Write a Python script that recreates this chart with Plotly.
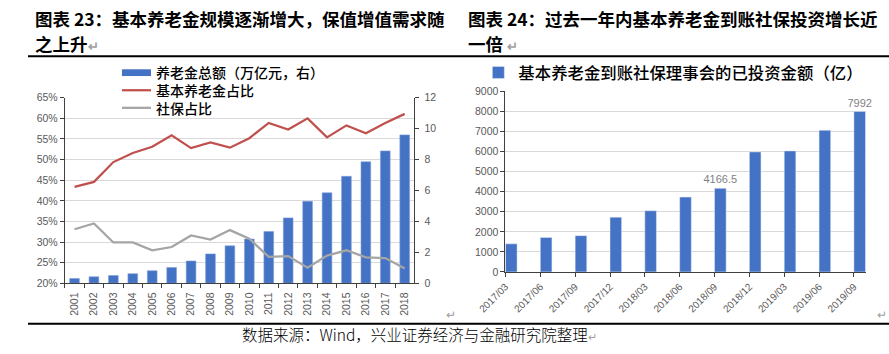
import plotly.graph_objects as go

W, H = 889, 354

# ---------------- data: left chart ----------------
years = [str(y) for y in range(2001, 2019)]
pension_total = [0.31, 0.42, 0.50, 0.62, 0.81, 1.02, 1.44, 1.90, 2.42, 2.86,
                 3.35, 4.23, 5.30, 5.85, 6.92, 7.86, 8.56, 9.60]          # 万亿元 (right axis)
basic_share = [43.4, 44.6, 49.4, 51.6, 53.1, 55.9, 52.8, 54.2, 52.9, 55.2,
               58.9, 57.3, 60.0, 55.4, 58.3, 56.4, 58.9, 61.1]           # %
social_share = [33.1, 34.5, 29.9, 29.9, 28.0, 28.8, 31.6, 30.6, 32.9, 30.8,
                26.4, 26.6, 23.8, 26.7, 28.0, 26.3, 26.1, 23.6]          # %
left_series_names = ["养老金总额（万亿元，右）", "基本养老金占比", "社保占比"]

# ---------------- data: right chart ----------------
quarters = ["2017/03", "2017/06", "2017/09", "2017/12", "2018/03", "2018/06",
            "2018/09", "2018/12", "2019/03", "2019/06", "2019/09"]
invested = [1400, 1720, 1810, 2730, 3050, 3730, 4166.5, 5980, 6030, 7060, 7992]  # 亿
labelled_quarters = ["2018/09", "2019/09"]
invested_text = [f"{v:g}" if q in labelled_quarters else "" for q, v in zip(quarters, invested)]
right_series_name = "基本养老金到账社保理事会的已投资金额（亿）"

BLUE = "#4472C4"
RED = "#C0504D"
GREY = "#A5A5A5"
TICK = "#595959"
AXL = "#404040"
GRID = "#D9D9D9"
CJK = "Noto Sans CJK SC"
NUMF = "Liberation Sans"

def px(x):
    return x / W

def py(y):
    return 1 - y / H

fig = go.Figure()

fig.add_trace(go.Bar(
    x=years, y=pension_total, name=left_series_names[0],
    marker=dict(color=BLUE, line=dict(color="#7FA0DA", width=0.6)),
    width=0.5, xaxis="x", yaxis="y", showlegend=False))
fig.add_trace(go.Scatter(
    x=years, y=basic_share, name=left_series_names[1], mode="lines",
    line=dict(color=RED, width=2.25), xaxis="x", yaxis="y2", showlegend=False))
fig.add_trace(go.Scatter(
    x=years, y=social_share, name=left_series_names[2], mode="lines",
    line=dict(color=GREY, width=2.25), xaxis="x", yaxis="y2", showlegend=False))

fig.add_trace(go.Bar(
    x=quarters, y=invested, name=right_series_name,
    marker=dict(color=BLUE), width=0.333, offset=0,
    text=invested_text, textposition="outside", cliponaxis=False,
    constraintext="none",
    textfont=dict(family=NUMF, size=11, color="#7F7F7F"),
    xaxis="x2", yaxis="y3", legend="legend2"))

tickfont = dict(family=NUMF, size=10.5, color=TICK)

fig.update_layout(
    width=W, height=H, autosize=False,
    margin=dict(l=0, r=0, t=0, b=0),
    paper_bgcolor="white", plot_bgcolor="rgba(0,0,0,0)",
    xaxis=dict(domain=[px(38), px(399)], type="category", tickangle=-90,
               tickfont=tickfont, showline=True, linecolor=AXL, linewidth=1,
               ticks="outside", tickson="boundaries", ticklen=4, tickcolor=AXL,
               ticklabelstandoff=4, showgrid=False, anchor="y2"),
    yaxis=dict(domain=[py(287), py(95)], range=[0, 12], dtick=2, side="right",
               anchor="x", showgrid=False, zeroline=False, tickfont=tickfont,
               showline=True, linecolor=AXL, ticks="outside", ticklen=4, tickcolor=AXL,
               ticklabelstandoff=3),
    yaxis2=dict(range=[20, 65], dtick=5, ticksuffix="%", overlaying="y", side="left",
                anchor="x", showgrid=True, gridcolor=GRID, gridwidth=1, zeroline=False,
                tickfont=tickfont, showline=True, linecolor=AXL, ticks="outside",
                ticklen=4, tickcolor=AXL),
    xaxis2=dict(domain=[px(493), px(865)], type="category", range=[0, 10.34],
                tickangle=-45, tickfont=dict(family=NUMF, size=10, color=TICK),
                showline=True, linecolor=AXL, ticks="outside", ticklen=4, tickcolor=AXL,
                showgrid=False, anchor="y3"),
    yaxis3=dict(domain=[py(275.3), py(88.3)], range=[0, 9000], dtick=1000, anchor="x2",
                showgrid=True, gridcolor=GRID, zeroline=False, tickfont=tickfont,
                showline=True, linecolor=AXL, ticks="outside", ticklen=4, tickcolor=AXL),
    legend2=dict(x=px(465), y=py(51), xanchor="left", yanchor="top",
                 font=dict(family=CJK, size=16.4, color="black", weight=500),
                 bgcolor="rgba(0,0,0,0)", itemwidth=30),
    showlegend=True,
)

# ---- manual legend for the left chart (Excel-style wide swatches, tight rows) ----
leg_font = 14
leg_step = leg_font * 1.3
leg_top = 69
leg_rows = [leg_top + i * leg_step for i in range(3)]
leg_x0, leg_x1, leg_tx = 97, 127, 130
fig.add_shape(type="rect", xref="paper", yref="paper",
              x0=px(leg_x0), x1=px(leg_x1), y0=py(leg_rows[0] + 3.5), y1=py(leg_rows[0] - 3.5),
              fillcolor=BLUE, line=dict(width=0))
for yy, col in zip(leg_rows[1:], [RED, GREY]):
    fig.add_shape(type="line", xref="paper", yref="paper",
                  x0=px(leg_x0), x1=px(leg_x1), y0=py(yy), y1=py(yy),
                  line=dict(color=col, width=2.25))
fig.add_annotation(xref="paper", yref="paper", x=px(leg_tx), y=py(leg_rows[1]),
                   xanchor="left", yanchor="middle", align="left", showarrow=False,
                   text="<br>".join(left_series_names),
                   font=dict(family=CJK, size=leg_font, color="black", weight=500))

# ---- titles (two lines each) ----
title_font = dict(family=CJK, size=17.5, color="black", weight=700)
ret = "<span style='color:#A0A0A0;font-size:13px'>↵</span>"
titles = [(5, "图表 23：基本养老金规模逐渐增大，保值增值需求随", "之上升" + ret),
          (452, "图表 24：过去一年内基本养老金到账社保投资增长近", "一倍 " + ret)]
for xx, l1, l2 in titles:
    for yy, t in ((13, l1), (38.5, l2)):
        fig.add_annotation(xref="paper", yref="paper", x=px(xx), y=py(yy),
                           xanchor="left", yanchor="middle", align="left",
                           showarrow=False, font=title_font, text=t)

fig.add_annotation(xref="paper", yref="paper", x=px(404), y=py(340), xanchor="center",
                   yanchor="middle", align="left", showarrow=False,
                   text="数据来源：Wind，兴业证券经济与金融研究院整理<span style='color:#A0A0A0;font-size:11px'>↵</span>",
                   font=dict(family=CJK, size=15.5, color="black", weight=300))
for xx in (437, 882):
    fig.add_annotation(xref="paper", yref="paper", x=px(xx), y=py(318), xanchor="center",
                       yanchor="middle", showarrow=False, text="↵",
                       font=dict(family=CJK, size=12, color="#A0A0A0"))

for yy in (52, 329):
    fig.add_shape(type="line", xref="paper", yref="paper", x0=0, x1=1,
                  y0=py(yy), y1=py(yy), line=dict(color="black", width=2))

fig.write_html("out.html")
